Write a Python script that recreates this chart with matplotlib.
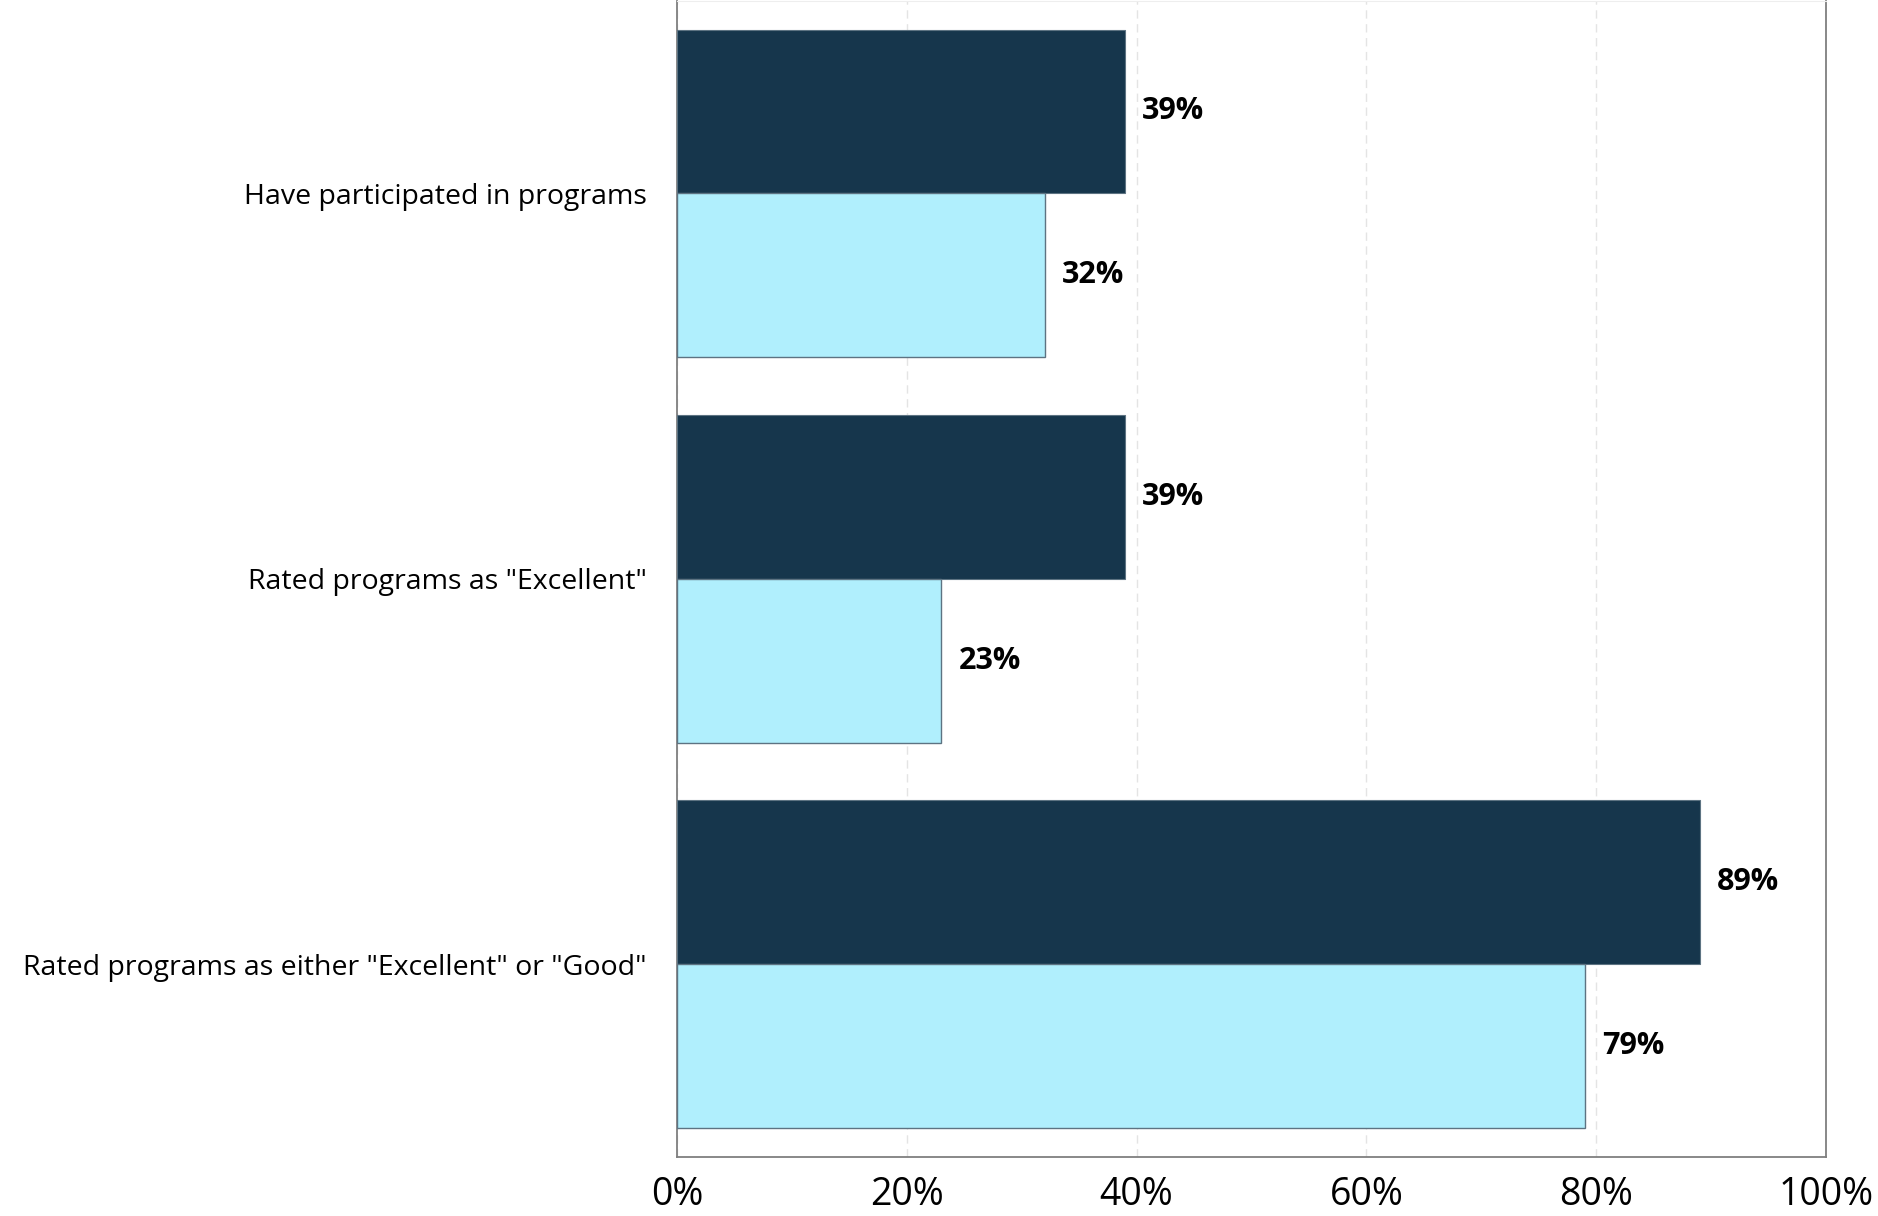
import numpy as np, matplotlib
matplotlib.use("Agg"); import matplotlib.pyplot as plt
from matplotlib import font_manager as fm

names = {f.name for f in fm.fontManager.ttflist}
tickfont = "Liberation Sans Narrow" if "Liberation Sans Narrow" in names else "Open Sans"
plt.rcParams["font.family"] = ["Open Sans", "DejaVu Sans"]

categories = ["Have participated in programs", 'Rated programs as "Excellent"',
              'Rated programs as either "Excellent" or "Good"']
dark_vals = [39, 39, 89]
light_vals = [32, 23, 79]
xticks = [0, 20, 40, 60, 80, 100]
xticklabels = ["0%", "20%", "40%", "60%", "80%", "100%"]

dark = "#16364c"; light = "#b0effd"
fig = plt.figure(figsize=(18.78, 12.16), dpi=100)
ax = fig.add_axes([0.3605, 0.0485, 0.6118, 0.951])
y = np.arange(len(categories)); h = 0.425
ax.barh(y - h/2, dark_vals, height=h, color=dark, edgecolor="#5d7382", linewidth=0.8, zorder=3)
ax.barh(y + h/2, light_vals, height=h, color=light, edgecolor="#5d7382", linewidth=1.0, zorder=3)
for yi, v in zip(y, dark_vals):
    ax.text(v + 1.5, yi - h/2, f"{v}%", va="center", ha="left", fontsize=22, fontweight="bold")
for yi, v in zip(y, light_vals):
    ax.text(v + 1.5, yi + h/2, f"{v}%", va="center", ha="left", fontsize=22, fontweight="bold")

ax.set_xlim(0, 100); ax.set_ylim(2.5, -0.5)
ax.set_xticks(xticks); ax.set_xticklabels(xticklabels, fontsize=27, family=tickfont)
ax.tick_params(axis="both", length=0)
ax.set_yticks(y); ax.set_yticklabels(categories, fontsize=20.5)
ax.tick_params(axis="x", pad=14); ax.tick_params(axis="y", pad=22)
ax.grid(axis="x", color="#e4e4e4", linestyle=(0, (6, 4)), linewidth=1, zorder=0)
for s in ["left", "right", "bottom"]:
    ax.spines[s].set_color("#7f7f7f"); ax.spines[s].set_linewidth(1.3)
ax.spines["top"].set_color("#eeeeee")
fig.savefig("out.png", dpi=100)
